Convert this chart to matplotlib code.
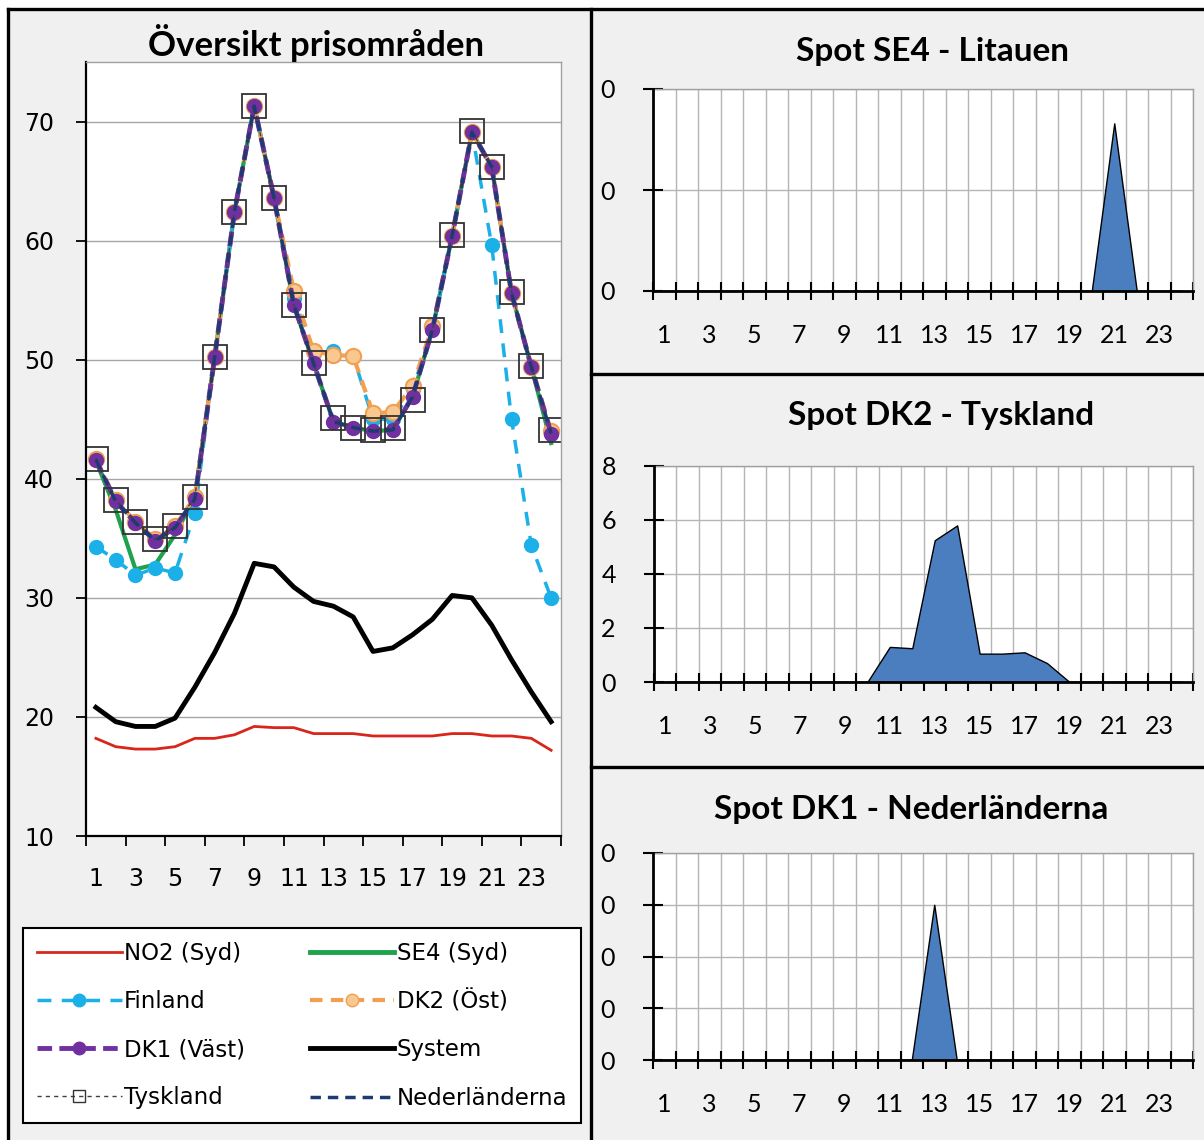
import matplotlib
matplotlib.use("Agg")
import matplotlib.pyplot as plt
from matplotlib.patches import Rectangle
from matplotlib.lines import Line2D

W, H = 1204, 1140

# ---- data ----
hours = list(range(1, 25))

no2 = [18.2, 17.5, 17.3, 17.3, 17.5, 18.2, 18.2, 18.5, 19.2, 19.1, 19.1, 18.6,
       18.6, 18.6, 18.4, 18.4, 18.4, 18.4, 18.6, 18.6, 18.4, 18.4, 18.2, 17.2]
se4 = [41.5, 37.4, 32.4, 32.8, 35.3, 38.5, 50.2, 62.4, 71.3, 63.6, 54.6, 49.7,
       44.8, 44.3, 44.0, 44.1, 46.9, 52.5, 60.4, 69.1, 66.2, 55.6, 49.4, 43.0]
finland = [34.3, 33.2, 31.9, 32.5, 32.1, 37.1, 50.2, 62.4, 71.3, 63.6, 55.2, 50.6,
           50.7, 50.3, 45.0, 45.0, 47.5, 52.6, 60.4, 69.1, 59.6, 45.0, 34.4, 30.0]
dk2 = [41.7, 38.2, 36.4, 34.9, 36.0, 38.5, 50.2, 62.4, 71.3, 63.6, 55.8, 50.7,
       50.4, 50.3, 45.5, 45.6, 47.8, 52.8, 60.4, 69.1, 66.2, 55.6, 49.4, 44.0]
dk1 = [41.6, 38.1, 36.3, 34.8, 35.9, 38.3, 50.2, 62.4, 71.3, 63.6, 54.6, 49.7,
       44.8, 44.3, 44.0, 44.1, 46.9, 52.5, 60.4, 69.1, 66.2, 55.6, 49.4, 43.8]
system = [20.8, 19.6, 19.2, 19.2, 19.9, 22.5, 25.4, 28.7, 32.9, 32.6, 30.9, 29.7,
          29.3, 28.4, 25.5, 25.8, 26.9, 28.2, 30.2, 30.0, 27.7, 24.8, 22.1, 19.6]
tyskland = [41.7, 38.2, 36.4, 34.9, 36.0, 38.5, 50.2, 62.4, 71.3, 63.6, 54.6, 49.7,
            45.1, 44.3, 44.1, 44.3, 46.6, 52.5, 60.5, 69.2, 66.2, 55.7, 49.5, 44.1]
nederlanderna = [41.6, 38.1, 36.3, 34.8, 35.9, 38.3, 50.2, 62.4, 71.3, 63.6, 54.6, 49.7,
                 44.8, 44.3, 44.0, 44.1, 46.9, 52.5, 60.4, 69.1, 66.2, 55.6, 49.4, 43.8]

left_yticks = [10, 20, 30, 40, 50, 60, 70]
odd_hours = list(range(1, 24, 2))

# spot flows (right panels); the leading digits of the y labels are cut off in the source
se4_lt = [0, 0, 0, 0, 0, 0, 0, 0, 0, 0, 0, 0, 0, 0, 0, 0, 0, 0, 0, 0, 16.6, 0, 0, 0]
se4_lt_ticks = [0, 10, 20]
se4_lt_labels = ["0", "0", "0"]

dk2_de = [0, 0, 0, 0, 0, 0, 0, 0, 0, 0, 1.3, 1.25, 5.25, 5.8, 1.05, 1.05, 1.1, 0.7,
          0, 0, 0, 0, 0, 0]
dk2_de_ticks = [0, 2, 4, 6, 8]
dk2_de_labels = ["0", "2", "4", "6", "8"]

dk1_nl = [0, 0, 0, 0, 0, 0, 0, 0, 0, 0, 0, 0, 30, 0, 0, 0, 0, 0, 0, 0, 0, 0, 0, 0]
dk1_nl_ticks = [0, 10, 20, 30, 40]
dk1_nl_labels = ["0", "0", "0", "0", "0"]


def fig_rect(x0, y0, x1, y1):
    # pixel box (top-left origin) -> figure fraction rect
    return [x0 / W, 1 - y1 / H, (x1 - x0) / W, (y1 - y0) / H]


fig = plt.figure(figsize=(W / 100, H / 100), dpi=100)
fig.patch.set_facecolor("white")

# gray dashboard background and black panel borders
fig.add_artist(Rectangle((8 / W, 0), 1 - 8 / W, 1 - 9 / H, transform=fig.transFigure,
                         facecolor="#f0f0f0", edgecolor="none", zorder=-10))
border_kw = dict(color="black", linewidth=2.4, transform=fig.transFigure, zorder=5)
fig.add_artist(Line2D([8 / W, 8 / W], [0, 1 - 9 / H], **border_kw))
fig.add_artist(Line2D([8 / W, 1], [1 - 9 / H, 1 - 9 / H], **border_kw))
fig.add_artist(Line2D([591 / W, 591 / W], [0, 1 - 9 / H], **border_kw))
fig.add_artist(Line2D([591 / W, 1], [1 - 374 / H, 1 - 374 / H], **border_kw))
fig.add_artist(Line2D([591 / W, 1], [1 - 767 / H, 1 - 767 / H], **border_kw))

# ---- left: overview ----
ax = fig.add_axes(fig_rect(86, 62, 561, 836))
ax.set_facecolor("white")

ax.plot(hours, no2, color="#d9261c", lw=2)
ax.plot(hours, se4, color="#1ea24b", lw=3)
ax.plot(hours, finland, color="#1cb0e8", lw=2.5, ls=(0, (4, 3)),
        marker="o", ms=10, mfc="#1cb0e8", mec="#1cb0e8")
ax.plot(hours, dk2, color="#f0a050", lw=3, ls=(0, (3, 2)),
        marker="o", ms=11, mfc="#f8c890", mec="#f0a050", mew=1.5)
ax.plot(hours, dk1, color="#7030a0", lw=3.5, ls=(0, (3, 1.5)),
        marker="o", ms=10, mfc="#7030a0", mec="#7030a0")
ax.plot(hours, system, color="black", lw=3.5)
ax.plot(hours, tyskland, color="#404040", lw=1, ls=(0, (3, 3)),
        marker="s", ms=17, mfc="none", mec="#333333", mew=1.3)
ax.plot(hours, nederlanderna, color="#1f3a70", lw=2.5, ls=(0, (3, 2)))

ax.set_xlim(0.5, 24.5)
ax.set_ylim(10, 75)
ax.set_yticks(left_yticks)
ax.set_yticklabels([str(v) for v in left_yticks])
ax.set_xticks(odd_hours)
ax.set_xticklabels([str(h) for h in odd_hours])
ax.set_xticks([0.5 + 2 * k for k in range(13)], minor=True)
ax.tick_params(axis="x", which="major", length=0, pad=22, labelsize=17)
ax.tick_params(axis="x", which="minor", direction="out", length=7, width=1.3)
ax.tick_params(axis="y", direction="out", length=7, width=1.3, pad=16, labelsize=17)
ax.grid(axis="y", color="#a6a6a6", lw=1)
ax.set_axisbelow(True)
for side in ("top", "right"):
    ax.spines[side].set_color("#a0a0a0")
    ax.spines[side].set_linewidth(1)
for side in ("left", "bottom"):
    ax.spines[side].set_linewidth(1.6)

fig.text(316 / W, 1 - 43 / H, "Översikt prisområden", ha="center", va="center",
         fontsize=25, fontweight="bold", family=["Lato", "DejaVu Sans"])

# legend with smaller markers, ordered to match the two-column layout
def h(**kw):
    return Line2D([], [], **kw)

leg_handles = [
    h(color="#d9261c", lw=2),
    h(color="#1cb0e8", lw=2.5, ls=(0, (4, 3)), marker="o", ms=9, mfc="#1cb0e8", mec="#1cb0e8"),
    h(color="#7030a0", lw=3.5, ls=(0, (3, 1.5)), marker="o", ms=9, mfc="#7030a0", mec="#7030a0"),
    h(color="#404040", lw=1, ls=(0, (3, 3)), marker="s", ms=8, mfc="none", mec="#333333"),
    h(color="#1ea24b", lw=3.5),
    h(color="#f0a050", lw=3, ls=(0, (3, 2)), marker="o", ms=9, mfc="#f8c890", mec="#f0a050"),
    h(color="black", lw=3.5),
    h(color="#1f3a70", lw=2.5, ls=(0, (3, 2))),
]
leg_labels = ["NO2 (Syd)", "Finland", "DK1 (Väst)", "Tyskland",
              "SE4 (Syd)", "DK2 (Öst)", "System", "Nederländerna"]
leg = fig.legend(leg_handles, leg_labels, loc="upper left", ncol=2, mode="expand",
                 bbox_to_anchor=(23 / W, 1 - 1120 / H, 558 / W, 192 / H),
                 borderaxespad=0, fontsize=16.5, handlelength=3.7, handletextpad=0.1,
                 labelspacing=1.1, borderpad=0.6, fancybox=False, framealpha=1,
                 edgecolor="black", facecolor="white")
leg.get_frame().set_linewidth(1.5)

# ---- right: spot flows ----
def spot_panel(rect, values, ticks, labels, title, title_x, title_y):
    a = fig.add_axes(fig_rect(*rect))
    a.set_facecolor("white")
    a.fill_between(hours, values, 0, facecolor="#4a7ebf", edgecolor="black", lw=1, zorder=2)
    a.set_xlim(0.5, 24.5)
    a.set_ylim(ticks[0], ticks[-1])
    a.set_yticks(ticks)
    a.set_yticklabels(labels, family="Lato")
    a.set_xticks(odd_hours)
    a.set_xticklabels([str(v) for v in odd_hours], family="Lato")
    a.set_xticks([0.5 + k for k in range(25)], minor=True)
    a.tick_params(axis="x", which="major", length=0, pad=24, labelsize=18)
    a.tick_params(axis="x", which="minor", direction="inout", length=13, width=1.5)
    a.tick_params(axis="y", direction="inout", length=15, width=1.5, pad=20, labelsize=18)
    a.grid(axis="x", which="minor", color="#b5b5b5", lw=1)
    a.grid(axis="y", which="major", color="#b5b5b5", lw=1)
    a.set_axisbelow(True)
    for side in ("top", "right"):
        a.spines[side].set_color("#a0a0a0")
        a.spines[side].set_linewidth(1)
    for side in ("left", "bottom"):
        a.spines[side].set_linewidth(2)
        a.spines[side].set_zorder(3)
    fig.text(title_x / W, 1 - title_y / H, title, ha="center", va="center",
             fontsize=24, fontweight="bold", family=["Lato", "DejaVu Sans"])
    return a

spot_panel((653, 89, 1193, 291), se4_lt, se4_lt_ticks, se4_lt_labels,
           "Spot SE4 - Litauen", 933, 52)
spot_panel((654, 466, 1193, 682), dk2_de, dk2_de_ticks, dk2_de_labels,
           "Spot DK2 - Tyskland", 941, 416)
spot_panel((653, 853, 1193, 1060), dk1_nl, dk1_nl_ticks, dk1_nl_labels,
           "Spot DK1 - Nederländerna", 911, 809)

fig.savefig("out.png", dpi=100, facecolor=fig.get_facecolor())
